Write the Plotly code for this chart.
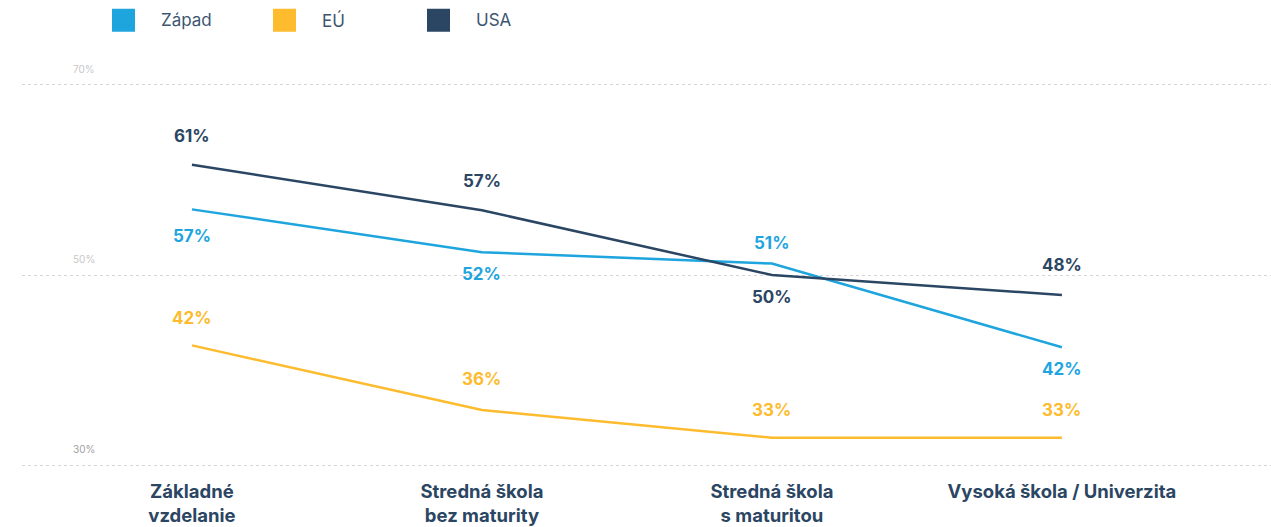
import plotly.graph_objects as go

categories = ["Základné<br>vzdelanie", "Stredná škola<br>bez maturity", "Stredná škola<br>s maturitou", "Vysoká škola / Univerzita"]
series_names = ["Západ", "EÚ", "USA"]
series_colors = ["#1ea5de", "#fdbb2d", "#2b4663"]
zapad = [56.9, 52.4, 51.2, 42.4]
eu = [42.6, 35.8, 32.9, 32.9]
usa = [61.6, 56.8, 50.0, 47.9]
zapad_labels = ["57%", "52%", "51%", "42%"]
eu_labels = ["42%", "36%", "33%", "33%"]
usa_labels = ["61%", "57%", "50%", "48%"]
y_ticks = [30, 50, 70]
y_tick_labels = ["30%", "50%", "70%"]

# label placement (pixel offsets from the point; positive = above)
zapad_shift = [-27, -22, 21, -22]
eu_shift = [27, 31, 28, 28]
usa_shift = [29, 29, -22, 30]
y_tick_colors = ["#a0a0a0", "#c8c8c8", "#c8c8c8"]

values = [zapad, eu, usa]
labels = [zapad_labels, eu_labels, usa_labels]
shifts = [zapad_shift, eu_shift, usa_shift]

fig = go.Figure()
annotations = []
for name, color, vals, labs, sh in zip(series_names, series_colors, values, labels, shifts):
    fig.add_trace(go.Scatter(x=categories, y=vals, mode="lines", name=name,
                             line=dict(color=color, width=2.5), showlegend=False,
                             hoverinfo="skip"))
    for c, v, l, s in zip(categories, vals, labs, sh):
        annotations.append(dict(x=c, y=v, xref="x", yref="y", text="<b>%s</b>" % l,
                                showarrow=False, yshift=s, xanchor="center", yanchor="middle",
                                font=dict(family="Inter", size=17, color=color)))

for t, tl, tc in zip(y_ticks, y_tick_labels, y_tick_colors):
    annotations.append(dict(x=0, xref="paper", y=t, yref="y", text=tl, showarrow=False,
                            xanchor="left", yanchor="middle", xshift=49, yshift=16,
                            font=dict(family="Inter", size=10, color=tc)))

shapes = []
legend_x = [90, 251, 405]
for i, (name, color) in enumerate(zip(series_names, series_colors)):
    shapes.append(dict(type="rect", xref="paper", yref="paper", xsizemode="pixel", ysizemode="pixel",
                       xanchor=0, yanchor=1, x0=legend_x[i], x1=legend_x[i] + 23,
                       y0=71.25, y1=48.25, fillcolor=color, line=dict(width=0)))
    annotations.append(dict(x=0, xref="paper", y=1, yref="paper", text=name, showarrow=False,
                            xanchor="left", yanchor="middle", xshift=legend_x[i] + 47, yshift=60,
                            font=dict(family="Inter", size=17, color="#3d5571")))

fig.update_layout(
    width=1271, height=527,
    margin=dict(l=22, r=0, t=80, b=57),
    paper_bgcolor="white", plot_bgcolor="white",
    showlegend=False,
    annotations=annotations,
    shapes=shapes,
    xaxis=dict(range=[-0.586, 3.721], showgrid=False, zeroline=False, showline=False,
               ticks="", tickfont=dict(family="Inter", size=18.5, color="#2b4663"),
               ticklabelstandoff=8, fixedrange=True, tickangle=0,
               tickvals=categories, ticktext=["<b>%s</b>" % c for c in categories]),
    yaxis=dict(range=[29.5, 70.5], tickvals=y_ticks, showticklabels=False, showgrid=True,
               gridcolor="#d6d6d6", griddash="dot", gridwidth=1, zeroline=False, showline=False,
               fixedrange=True),
)

fig.write_html("out.html", config={"displayModeBar": False},
               post_script="document.body.style.margin='0';document.body.style.overflow='hidden';")
